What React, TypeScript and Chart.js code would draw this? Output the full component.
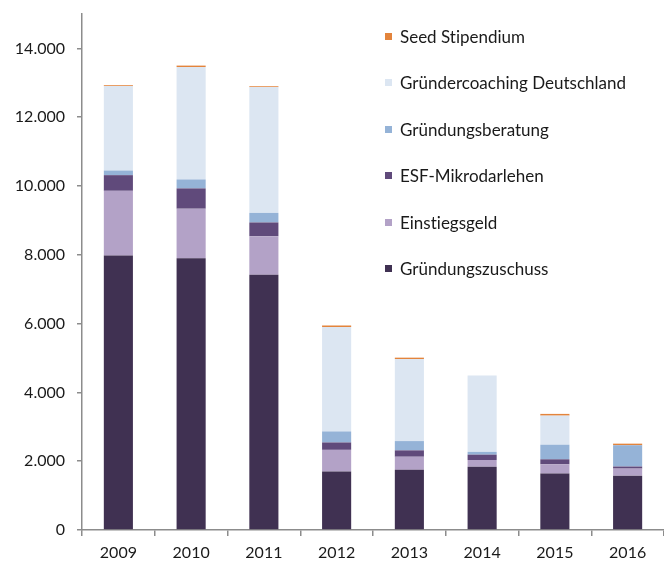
import React, { useEffect, useRef } from "react";
import { Chart, registerables } from "chart.js";

Chart.register(...registerables);

const categories = ["2009", "2010", "2011", "2012", "2013", "2014", "2015", "2016"];
const gruendungszuschuss = [7980, 7900, 7420, 1700, 1750, 1840, 1640, 1580];
const einstiegsgeld = [1880, 1440, 1120, 630, 380, 195, 270, 205];
const esfMikrodarlehen = [455, 590, 400, 215, 185, 155, 145, 60];
const gruendungsberatung = [135, 260, 280, 320, 270, 80, 425, 620];
const gruendercoaching = [2455, 3270, 3655, 3035, 2385, 2220, 845, 0];
const seedStipendium = [25, 40, 25, 45, 40, 0, 50, 45];
const yTickValues = [0, 2000, 4000, 6000, 8000, 10000, 12000, 14000];

const seriesNames = [
  "Gründungszuschuss",
  "Einstiegsgeld",
  "ESF-Mikrodarlehen",
  "Gründungsberatung",
  "Gründercoaching Deutschland",
  "Seed Stipendium",
];
const seriesColors = ["#403152", "#b3a2c7", "#604a7b", "#95b3d7", "#dce6f2", "#e3843c"];
const seriesValues = [
  gruendungszuschuss,
  einstiegsgeld,
  esfMikrodarlehen,
  gruendungsberatung,
  gruendercoaching,
  seedStipendium,
];

const FONT = "Lato, 'Open Sans', sans-serif";

function formatDe(v: number): string {
  const s = String(Math.round(v));
  return s.replace(/\B(?=(\d{3})+(?!\d))/g, ".");
}

export default function App() {
  const ref = useRef<HTMLCanvasElement | null>(null);

  useEffect(() => {
    if (!ref.current) return;
    const chart = new Chart(ref.current, {
      type: "bar",
      data: {
        labels: categories,
        datasets: seriesNames.map((name, i) => ({
          label: name,
          data: seriesValues[i],
          backgroundColor: seriesColors[i],
          borderWidth: 0,
          barPercentage: 0.8,
          categoryPercentage: 0.5,
        })),
      },
      options: {
        animation: false,
        responsive: false,
        maintainAspectRatio: false,
        layout: { padding: { top: 14, right: 0, bottom: 0, left: 0 } },
        plugins: {
          legend: { display: false },
          tooltip: { enabled: false },
        },
        scales: {
          x: {
            stacked: true,
            grid: {
              display: true,
              drawOnChartArea: false,
              drawTicks: true,
              tickLength: 6,
              color: "#8c8c8c",
              lineWidth: 1.5,
              offset: true,
            },
            border: { display: true, color: "#8c8c8c", width: 1.5 },
            ticks: {
              color: "#1a1a1a",
              font: { family: FONT, size: 16 },
              padding: 7,
              maxRotation: 0,
            },
            afterFit: (scale: any) => {
              scale.height = 31;
            },
          },
          y: {
            stacked: true,
            min: 0,
            max: 15000,
            grid: {
              display: true,
              drawOnChartArea: false,
              drawTicks: true,
              tickLength: 5,
              color: "#8c8c8c",
              lineWidth: 1.5,
            },
            border: { display: true, color: "#8c8c8c", width: 1.5 },
            ticks: {
              color: "#1a1a1a",
              font: { family: FONT, size: 16 },
              padding: 12,
              autoSkip: false,
              callback: (v: any) => formatDe(Number(v)),
            },
            afterBuildTicks: (scale: any) => {
              scale.ticks = yTickValues.map((v) => ({ value: v }));
            },
            afterFit: (scale: any) => {
              scale.width = 82;
              scale.paddingTop = 0;
              scale.paddingBottom = 0;
            },
          },
        },
      },
    });
    return () => chart.destroy();
  }, []);

  const legendItems = seriesNames
    .map((n, i) => ({ name: n, color: seriesColors[i] }))
    .reverse();

  return (
    <div
      style={{
        position: "fixed",
        left: 0,
        top: 0,
        width: 664,
        height: 561,
        background: "#ffffff",
      }}
    >
      <canvas ref={ref} width={664} height={561} style={{ display: "block" }} />
      {legendItems.map((item, i) => (
        <div
          key={item.name}
          style={{
            position: "absolute",
            left: 385,
            top: 36 + i * 46.5 - 11,
            height: 22,
            display: "flex",
            alignItems: "center",
            fontFamily: FONT,
            fontSize: 17,
            fontVariantLigatures: "none",
            color: "#1a1a1a",
            whiteSpace: "nowrap",
          }}
        >
          <span
            style={{
              display: "inline-block",
              width: 7,
              height: 7,
              background: item.color,
              marginRight: 8,
            }}
          />
          <span>{item.name}</span>
        </div>
      ))}
    </div>
  );
}
